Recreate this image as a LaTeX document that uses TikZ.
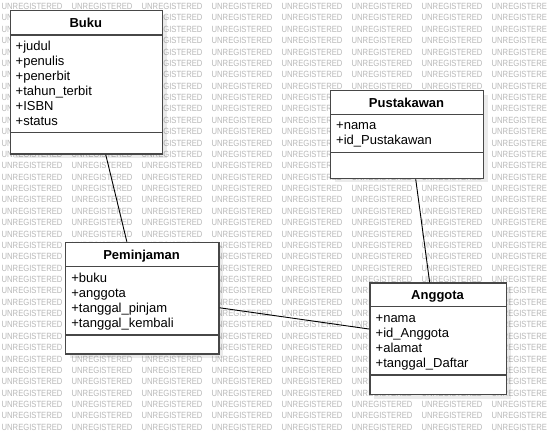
\documentclass[tikz,border=0pt]{standalone}
\usepackage{fontspec}
\setmainfont{Liberation Sans}
\newfontfamily\tandafont[FakeStretch=0.85]{Liberation Sans}
\usetikzlibrary{shadows}

\tikzset{
    kelas/.style={rectangle, draw=black!72, line width=1.4pt, fill=white, inner sep=0pt,
        anchor=north west, drop shadow={shadow xshift=4pt, shadow yshift=-4pt, fill=black, opacity=0.08}},
    sekat/.style={draw=black!72, line width=1.4pt},
    judul/.style={font=\bfseries\fontsize{13}{15}\selectfont, inner sep=0pt, anchor=base},
    atribut/.style={font=\fontsize{13}{15}\selectfont, inner sep=0pt, anchor=base west},
    relasi/.style={draw=black, line width=0.9pt},
    tanda/.style={text=black!28, font=\tandafont\fontsize{9}{9}\selectfont, inner sep=0pt, anchor=west}
}

\begin{document}
\begin{tikzpicture}[x=1pt, y=-1pt]
    \useasboundingbox[fill=white] (0,0) rectangle (547,434);
    % latar, tanpa kata yang tertutup penuh oleh kelas
    \foreach \r in {0,...,37}
        \foreach \c in {0,...,7} {
            \pgfmathsetmacro\wx{\c*70+1.5}
            \pgfmathsetmacro\wy{6.5+\r*11.37}
            \pgfmathtruncatemacro\tutup{(\wx>9 && \wx+61<163 && \wy>14 && \wy<149)
                || (\wx>330 && \wx+61<484 && \wy>94 && \wy<174)
                || (\wx>65 && \wx+61<219 && \wy>246 && \wy<349)
                || (\wx>369 && \wx+61<507 && \wy>286 && \wy<390) ? 1 : 0}
            \ifnum\tutup=0
                \node[tanda] (wm-\r-\c) at (\wx,\wy) {UNREGISTERED};
            \fi
        }

    % kelas
    \path node[kelas, minimum width=152.5pt, minimum height=143.3pt] (buku) at (9.5,10) {}
        node[kelas, minimum width=153pt, minimum height=87.7pt] (pustakawan) at (330,90) {}
        node[kelas, minimum width=153.3pt, minimum height=111.6pt] (pinjam) at (65,241.7) {}
        node[kelas, minimum width=136.7pt, minimum height=111.7pt] (anggota) at (369.3,282.3) {};

    \draw[sekat] (buku.west |- 0,35) -- (buku.east |- 0,35);
    \draw[sekat] (buku.west |- 0,132.7) -- (buku.east |- 0,132.7);
    \draw[sekat] (pustakawan.west |- 0,114.3) -- (pustakawan.east |- 0,114.3);
    \draw[sekat] (pustakawan.west |- 0,152.7) -- (pustakawan.east |- 0,152.7);
    \draw[sekat] (pinjam.west |- 0,266.7) -- (pinjam.east |- 0,266.7);
    \draw[sekat] (pinjam.west |- 0,335) -- (pinjam.east |- 0,335);
    \draw[sekat] (anggota.west |- 0,306.7) -- (anggota.east |- 0,306.7);
    \draw[sekat] (anggota.west |- 0,375) -- (anggota.east |- 0,375);

    \node[judul] (buku-judul) at (85.75,27.5) {Buku};
    \node[judul] (pustakawan-judul) at (406.5,107.5) {Pustakawan};
    \node[judul] (pinjam-judul) at (141.6,259.5) {Peminjaman};
    \node[judul] (anggota-judul) at (437.6,299.7) {Anggota};

    \foreach \a [count=\i] in {+judul,+penulis,+penerbit,+tahun\_terbit,+ISBN,+status}
        \node[atribut] (buku-a\i) at (15.5,35+15*\i) {\a};
    \foreach \a [count=\i] in {+nama,+id\_Pustakawan}
        \node[atribut] (pustakawan-a\i) at (336,114.5+15*\i) {\a};
    \foreach \a [count=\i] in {+buku,+anggota,+tanggal\_pinjam,+tanggal\_kembali}
        \node[atribut] (pinjam-a\i) at (71.2,267+15*\i) {\a};
    \foreach \a [count=\i] in {+nama,+id\_Anggota,+alamat,+tanggal\_Daftar}
        \node[atribut] (anggota-a\i) at (375.5,307+15*\i) {\a};

    % hubungan
    \draw[relasi] ([xshift=19.3pt]buku.south) -- ([xshift=-15.5pt]pinjam.north);
    \draw[relasi] ([xshift=8.5pt]pustakawan.south) -- ([xshift=-8.7pt]anggota.north);
    \draw[relasi] ([yshift=-9.6pt]pinjam.east) -- ([yshift=9.8pt]anggota.west);
\end{tikzpicture}
\end{document}
